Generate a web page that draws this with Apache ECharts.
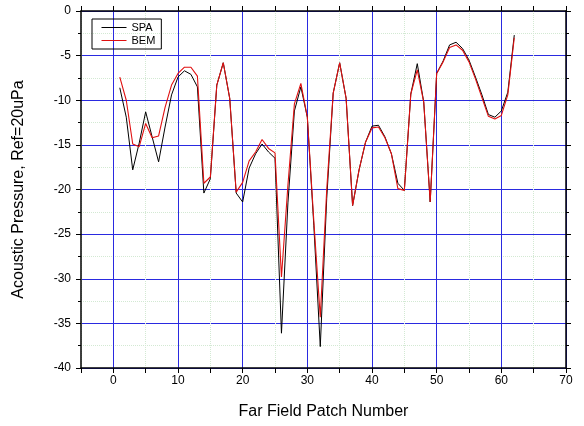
<!DOCTYPE html>
<html>
<head>
<meta charset="utf-8">
<script src="https://cdn.jsdelivr.net/npm/echarts@6/dist/echarts.min.js"></script>
<style>
  html, body { margin: 0; padding: 0; background: #fff; }
  #main { width: 584px; height: 426px; }
</style>
</head>
<body>
<div id="main"></div>
<script>
// patch numbers 1..62
var patches = [];
for (var i = 1; i <= 62; i++) patches.push(i);

var spa = [
    -8.6, -11.9, -17.8, -14.8, -11.3, -14.1, -16.9, -13.0, -9.4, -7.4,
    -6.7, -7.1, -8.5, -20.4, -18.8, -8.3, -5.8, -9.8, -20.4, -21.4,
    -17.6, -16.0, -14.9, -15.8, -16.5, -36.1, -21.5, -11.2, -8.5, -11.9,
    -24.0, -37.6, -21.0, -9.2, -5.8, -9.8, -21.8, -17.8, -14.7, -12.9,
    -12.8, -14.1, -16.0, -19.3, -20.1, -9.3, -5.9, -10.2, -21.4, -7.0,
    -5.6, -3.8, -3.5, -4.2, -5.5, -7.4, -9.4, -11.6, -11.9, -11.2,
    -9.1, -2.7
];
var bem = [
    -7.4, -10.0, -14.9, -15.2, -12.6, -14.2, -14.0, -10.8, -8.3, -7.0,
    -6.3, -6.3, -7.3, -19.3, -18.6, -8.3, -5.8, -9.8, -20.3, -19.2,
    -16.8, -15.8, -14.4, -15.4, -15.9, -29.8, -19.5, -10.4, -8.1, -11.9,
    -23.5, -34.3, -20.0, -9.2, -5.8, -9.8, -21.8, -17.8, -14.7, -13.1,
    -13.0, -14.2, -16.0, -19.9, -20.1, -9.3, -6.6, -10.2, -21.4, -7.0,
    -5.7, -4.1, -3.8, -4.4, -5.7, -7.6, -9.7, -11.8, -12.1, -11.7,
    -9.4, -3.0
];

function pairs(vals) {
    var out = [];
    for (var i = 0; i < vals.length; i++) out.push([patches[i], vals[i]]);
    return out;
}

var blue = '#2a2ae0';
var dotted = '#d3e9d3';
var none = 'rgba(0,0,0,0)';
var font = 'Liberation Sans, Arial, sans-serif';

var chart = echarts.init(document.getElementById('main'));
var option = {
    backgroundColor: '#fff',
    animation: false,
    textStyle: { fontFamily: font },
    grid: { left: 81, right: 18, top: 11, bottom: 58 },
    legend: {
        left: 92,
        top: 19,
        orient: 'vertical',
        borderColor: '#000',
        borderWidth: 1,
        borderRadius: 0,
        padding: [3, 6, 3, 9],
        itemWidth: 25,
        itemHeight: 12,
        itemGap: 2,
        itemStyle: { opacity: 0, borderWidth: 0 },
        lineStyle: { width: 1 },
        textStyle: { fontSize: 11, color: '#000', fontFamily: font },
        data: ['SPA', 'BEM']
    },
    xAxis: [{
        type: 'value',
        min: -5,
        max: 70,
        interval: 5,
        position: 'bottom',
        name: 'Far Field Patch Number',
        nameLocation: 'middle',
        nameGap: 36,
        nameTextStyle: { fontSize: 16, color: '#000', fontFamily: font },
        axisLine: { onZero: false, lineStyle: { color: '#000', width: 1.5 } },
        axisTick: { inside: false, length: 5, lineStyle: { color: '#000' } },
        axisLabel: {
            color: '#000', fontSize: 12, margin: 7,
            formatter: function (v) { return v % 10 === 0 ? String(v) : ''; }
        },
        // blue at the tens only
        splitLine: { show: true, lineStyle: { color: [none, blue], width: 1 } }
    }, {
        type: 'value',
        min: -5,
        max: 70,
        interval: 5,
        position: 'top',
        axisLine: { onZero: false, lineStyle: { color: '#000', width: 1.5 } },
        axisTick: { inside: false, length: 5, lineStyle: { color: '#000' } },
        axisLabel: { show: false },
        // dotted at the fives only
        splitLine: { show: true, lineStyle: { color: [dotted, none], type: 'dotted', width: 1 } }
    }],
    yAxis: [{
        type: 'value',
        min: -40,
        max: 0,
        interval: 5,
        position: 'left',
        name: 'Acoustic Pressure, Ref=20uPa',
        nameLocation: 'middle',
        nameGap: 54,
        nameRotate: 90,
        nameTextStyle: { fontSize: 16, color: '#000', fontFamily: font },
        axisLine: { show: true, onZero: false, lineStyle: { color: '#000', width: 1.5 } },
        axisTick: { inside: false, length: 5, lineStyle: { color: '#000' } },
        minorTick: { show: true, splitNumber: 2, length: 3, lineStyle: { color: '#000' } },
        axisLabel: { color: '#000', fontSize: 12, margin: 10 },
        splitLine: { show: true, lineStyle: { color: blue, width: 1 } },
        minorSplitLine: { show: true, lineStyle: { color: dotted, type: 'dotted', width: 1 } }
    }, {
        type: 'value',
        min: -40,
        max: 0,
        interval: 5,
        position: 'right',
        axisLine: { show: true, onZero: false, lineStyle: { color: '#000', width: 1.5 } },
        axisTick: { inside: false, length: 5, lineStyle: { color: '#000' } },
        minorTick: { show: true, splitNumber: 2, length: 3, lineStyle: { color: '#000' } },
        axisLabel: { show: false },
        splitLine: { show: false },
        minorSplitLine: { show: false }
    }],
    series: [{
        name: 'SPA',
        type: 'line',
        xAxisIndex: 0,
        yAxisIndex: 0,
        data: pairs(spa),
        symbol: 'none',
        color: '#000',
        lineStyle: { color: '#000', width: 1 },
        z: 3
    }, {
        name: 'BEM',
        type: 'line',
        xAxisIndex: 0,
        yAxisIndex: 0,
        data: pairs(bem),
        symbol: 'none',
        color: '#e01010',
        lineStyle: { color: '#e01010', width: 1.1 },
        z: 4
    }]
};
chart.setOption(option);
</script>
</body>
</html>
